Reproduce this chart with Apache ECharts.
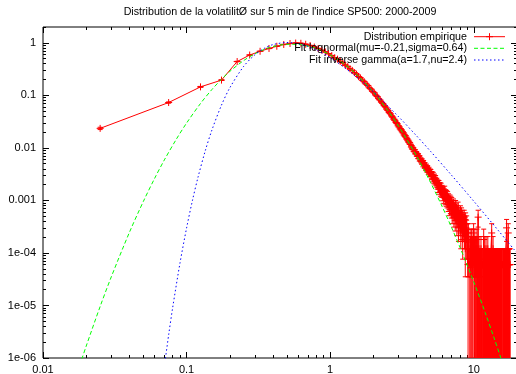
<!DOCTYPE html>
<html><head><meta charset="utf-8">
<script src="https://cdn.jsdelivr.net/npm/echarts@6/dist/echarts.min.js"></script>
<style>html,body{margin:0;padding:0;background:#fff}#c{width:516px;height:374px}</style>
</head><body><div id="c"></div>
<script>
const titleText = "Distribution de la volatilitØ sur 5 min de l'indice SP500: 2000-2009";
const legendNames = ["Distribution empirique", "Fit lognormal(mu=-0.21,sigma=0.64)", "Fit inverse gamma(a=1.7,nu=2.4)"];
const xRange = [0.01, 20];
const yRange = [1e-6, 2];
const xTickValues = [0.01, 0.1, 1, 10];
const xTickLabels = ["0.01", "0.1", "1", "10"];
const yTickValues = [1e-6, 1e-5, 1e-4, 1e-3, 0.01, 0.1, 1];
const yTickLabels = ["1e-06", "1e-05", "1e-04", "0.001", "0.01", "0.1", "1"];

// empirical histogram: bins of width 0.05 starting at centre 0.025
const binWidth = 0.05;
const firstBinCenter = 0.025;
const densityPerCount = 6e-5;
// densities of the first 100 bins (x = 0.025 ... 4.975)
const empDensity = [
 0.0235, 0.073, 0.145, 0.195, 0.44, 0.585, 0.69, 0.78, 0.86, 0.93,
 0.97, 0.99, 0.98, 0.94, 0.89, 0.83, 0.78, 0.72, 0.67, 0.62,
 0.570, 0.521, 0.488, 0.444, 0.415, 0.377, 0.352, 0.320, 0.298, 0.271,
 0.253, 0.229, 0.215, 0.194, 0.182, 0.165, 0.154, 0.139, 0.131, 0.119,
 0.112, 0.101, 0.0952, 0.0866, 0.0812, 0.0741, 0.0698, 0.0636, 0.0599, 0.0546,
 0.0515, 0.0470, 0.0445, 0.0406, 0.0385, 0.0351, 0.0334, 0.0304, 0.0290, 0.0263,
 0.0251, 0.0229, 0.0222, 0.0203, 0.0195, 0.0176, 0.0171, 0.0160, 0.0146, 0.0141,
 0.0128, 0.0125, 0.0117, 0.0104, 0.0103, 0.0094, 0.0093, 0.0084, 0.0085, 0.0077,
 0.0076, 0.0069, 0.0071, 0.0062, 0.0064, 0.0058, 0.0055, 0.0056, 0.0049, 0.0052,
 0.0046, 0.0047, 0.0042, 0.0044, 0.0039, 0.0041, 0.0036, 0.0038, 0.0033, 0.0035
];
// counts of the following bins (x = 5.025 ... 17.875)
const empCounts = [
 57, 49, 52, 44, 50, 41, 46, 39, 43, 36,
 38, 33, 35, 29, 34, 27, 31, 25, 30, 24,
 27, 21, 25, 19, 23, 26, 18, 22, 17, 21,
 16, 20, 14, 18, 15, 12, 17, 13, 16, 11,
 15, 9, 13, 11, 14, 8, 12, 10, 7, 13,
 9, 11, 6, 10, 8, 12, 5, 9, 7, 8,
 6, 10, 4, 7, 9, 5, 8, 3, 7, 6,
 5, 8, 4, 6, 2, 7, 5, 3, 6, 4,
 3, 2, 1, 4, 2, 0, 0, 1, 3, 2, 1, 2, 3, 1, 2, 2, 1, 3, 2, 4,
 1, 2, 1, 3, 1, 2, 1, 1, 2, 1, 3, 1, 1, 2, 8, 1, 1, 2, 1, 1,
 0, 0, 1, 1, 2, 1, 1, 1, 1, 1, 0, 0, 1, 1, 3, 1, 1, 1, 2, 1,
 1, 1, 1, 2, 1, 1, 1, 1, 1, 1, 2, 1, 1, 1, 1, 1, 1, 1, 0, 0,
 1, 1, 1, 1, 1, 1, 4, 1, 1, 1, 1, 1, 2, 1, 1, 1, 1, 1, 1, 1,
 0, 0, 0, 1, 1, 1, 1, 1, 1, 1, 1, 1, 1, 1, 1, 1, 1, 1, 1, 1,
 1, 1, 1, 1, 1, 1, 1, 1, 1, 1, 1, 1, 1, 1, 0, 0, 0, 0, 1, 1,
 1, 1, 1, 1, 1, 1, 1, 1, 1, 1, 1, 1, 1, 1, 1, 1, 1, 1, 5, 1,
 1, 1, 1, 1, 1, 1, 1, 4, 1, 1, 1, 1, 1, 1, 1, 1, 1, 1
];

const lognormX = [0.018, 0.02, 0.025, 0.03, 0.04, 0.05, 0.06, 0.07, 0.085, 0.1, 0.125, 0.15, 0.175, 0.2, 0.25, 0.3, 0.35, 0.4, 0.5, 0.6, 0.7, 0.8, 1, 1.25, 1.5, 2, 2.5, 3, 4, 5, 6, 7, 8, 10, 12, 14, 16];
const lognormY = [7.2e-7, 1.69e-6, 9.56e-6, 3.59e-5, 2.47e-4, 9.57e-4, 2.65e-3, 5.89e-3, 0.01476, 0.0297, 0.0700, 0.1288, 0.2021, 0.2855, 0.4606, 0.622, 0.7528, 0.8476, 0.9375, 0.930, 0.8674, 0.779, 0.5907, 0.3966, 0.2617, 0.1152, 0.0530, 0.02569, 6.95e-3, 2.19e-3, 7.80e-4, 3.06e-4, 1.297e-4, 2.81e-5, 7.34e-6, 2.21e-6, 7.5e-7];
const invGammaX = [0.07, 0.075, 0.08, 0.09, 0.1, 0.11, 0.12, 0.135, 0.15, 0.175, 0.2, 0.25, 0.3, 0.35, 0.4, 0.5, 0.6, 0.7, 0.8, 1, 1.5, 2, 3, 4, 5, 7, 10, 15, 20];
const invGammaY = [6.9e-7, 2.75e-6, 9.1e-6, 6.47e-5, 2.99e-4, 1.014e-3, 2.74e-3, 8.85e-3, 0.02178, 0.0651, 0.1392, 0.357, 0.5965, 0.7936, 0.925, 1.013, 0.9607, 0.853, 0.7337, 0.5254, 0.2333, 0.1164, 0.03894, 0.01687, 8.60e-3, 3.02e-3, 9.66e-4, 2.57e-4, 9.95e-5];

const FONT = '"Liberation Sans", Arial, sans-serif';
const L = Math.log10;
const LX0 = L(xRange[0]), LX1 = L(xRange[1]), LY0 = L(yRange[0]), LY1 = L(yRange[1]);

// empirical points
const empAll = empDensity.concat(empCounts.map(c => c * densityPerCount));
const redLine = [], redBars = [];
empAll.forEach((y, i) => {
  const x = firstBinCenter + i * binWidth;
  if (y > 0) {
    const err = Math.sqrt(y * densityPerCount);
    const lo = y - err;
    redLine.push([L(x), L(y)]);
    redBars.push([L(x), L(y), lo > 1e-12 ? L(lo) : -99, L(y + err)]);
  } else {
    redLine.push([L(x), null]);
  }
});

function minorTicks(a, b) {
  const out = [];
  for (let d = Math.floor(a); d <= Math.ceil(b); d++) {
    for (let k = 2; k <= 9; k++) { const v = d + L(k); if (v > a + 1e-9 && v < b + 1e-9) out.push(v); }
  }
  return out;
}
const xMajor = xTickValues.map(L), yMajor = yTickValues.map(L);
const xMinor = minorTicks(LX0, LX1), yMinor = minorTicks(LY0, LY1);

function lab(vals, labels) {
  return v => { for (let i = 0; i < vals.length; i++) if (Math.abs(L(vals[i]) - v) < 1e-6) return labels[i]; return ''; };
}
function axis(kind, pos, ticks, len, showLabel) {
  const isX = kind === 'x';
  return {
    type: 'value', position: pos, gridIndex: 0, offset: 0,
    min: isX ? LX0 : LY0, max: isX ? LX1 : LY1,
    axisLine: { show: false, onZero: false }, splitLine: { show: false },
    axisTick: { show: true, inside: true, length: len, customValues: ticks, lineStyle: { color: '#000', width: 1 } },
    axisLabel: {
      show: showLabel, customValues: ticks, margin: isX ? 6 : 7, color: '#000', fontFamily: FONT, fontSize: 11,
      formatter: isX ? lab(xTickValues, xTickLabels) : lab(yTickValues, yTickLabels),
      showMinLabel: true, showMaxLabel: true
    }
  };
}

const legendRows = [36.7, 48.3, 60];
const legendTextRight = 467, legendSample = [474, 505];
const legendColors = ['#ff0000', '#00ff00', '#0000ff'];
const legendDash = [null, [4, 2.5], [1.5, 2.5]];
const graphics = [{
  type: 'text', z: 100,
  style: { text: titleText, x: 280, y: 12.5, align: 'center', verticalAlign: 'middle', font: '10.7px ' + FONT, fill: '#000' }
}];
legendNames.forEach((n, i) => {
  graphics.push({ type: 'text', z: 100, style: { text: n, x: legendTextRight, y: legendRows[i], align: 'right', verticalAlign: 'middle', font: '10.7px ' + FONT, fill: '#000' } });
  graphics.push({ type: 'line', z: 100, shape: { x1: legendSample[0], y1: legendRows[i], x2: legendSample[1], y2: legendRows[i] }, style: { stroke: legendColors[i], lineWidth: 1, lineDash: legendDash[i] } });
});
const mid = (legendSample[0] + legendSample[1]) / 2;
graphics.push({ type: 'line', z: 100, shape: { x1: mid - 3.5, y1: legendRows[0], x2: mid + 3.5, y2: legendRows[0] }, style: { stroke: '#ff0000', lineWidth: 1 } });
graphics.push({ type: 'line', z: 100, shape: { x1: mid, y1: legendRows[0] - 3.5, x2: mid, y2: legendRows[0] + 3.5 }, style: { stroke: '#ff0000', lineWidth: 1 } });

const chart = echarts.init(document.getElementById('c'), null, { renderer: 'canvas' });
chart.setOption({
  animation: false,
  backgroundColor: '#fff',
  grid: { left: 43, right: -1, top: 27, bottom: 16, show: true, borderColor: '#000', borderWidth: 1, containLabel: false, outerBoundsMode: 'none' },
  xAxis: [axis('x', 'bottom', xMajor, 6, true), axis('x', 'bottom', xMinor, 3, false), axis('x', 'top', xMajor, 6, false), axis('x', 'top', xMinor, 3, false)],
  yAxis: [axis('y', 'left', yMajor, 6, true), axis('y', 'left', yMinor, 3, false), axis('y', 'right', yMajor, 6, false), axis('y', 'right', yMinor, 3, false)],
  graphic: graphics,
  series: [
    {
      type: 'line', name: legendNames[0], data: redLine, symbol: 'none', connectNulls: false, clip: true,
      lineStyle: { color: '#ff0000', width: 1 }, z: 2
    },
    {
      type: 'custom', name: legendNames[0] + ' bars', data: redBars, clip: true, z: 3,
      renderItem: function (params, api) {
        const cs = params.coordSys;
        const top = cs.y, bottom = cs.y + cs.height;
        const x = api.value(0), y = api.value(1), lo = api.value(2), hi = api.value(3);
        const p = api.coord([x, y]);
        const pl = lo > -50 ? api.coord([x, lo])[1] : bottom + 20;
        const ph = api.coord([x, hi])[1];
        const st = { stroke: '#ff0000', lineWidth: 1, fill: null };
        const ch = [];
        const y1 = Math.min(pl, bottom), y2 = Math.max(ph, top);
        if (y1 > y2) ch.push({ type: 'line', shape: { x1: p[0], y1: y1, x2: p[0], y2: y2 }, style: st });
        if (pl <= bottom) ch.push({ type: 'line', shape: { x1: p[0] - 2.5, y1: pl, x2: p[0] + 2.5, y2: pl }, style: st });
        if (ph >= top) ch.push({ type: 'line', shape: { x1: p[0] - 2.5, y1: ph, x2: p[0] + 2.5, y2: ph }, style: st });
        if (p[1] <= bottom && p[1] >= top) {
          ch.push({ type: 'line', shape: { x1: p[0] - 3.5, y1: p[1], x2: p[0] + 3.5, y2: p[1] }, style: st });
          ch.push({ type: 'line', shape: { x1: p[0], y1: p[1] - 3.5, x2: p[0], y2: p[1] + 3.5 }, style: st });
        }
        return { type: 'group', children: ch };
      }
    },
    {
      type: 'line', name: legendNames[1], data: lognormX.map((x, i) => [L(x), L(lognormY[i])]), symbol: 'none', smooth: 0.3, clip: true,
      lineStyle: { color: '#00ff00', width: 1, type: [4, 2.5] }, z: 4
    },
    {
      type: 'line', name: legendNames[2], data: invGammaX.map((x, i) => [L(x), L(invGammaY[i])]), symbol: 'none', smooth: 0.3, clip: true,
      lineStyle: { color: '#0000ff', width: 1, type: [1.5, 2.5] }, z: 5
    }
  ]
});
</script></body></html>
